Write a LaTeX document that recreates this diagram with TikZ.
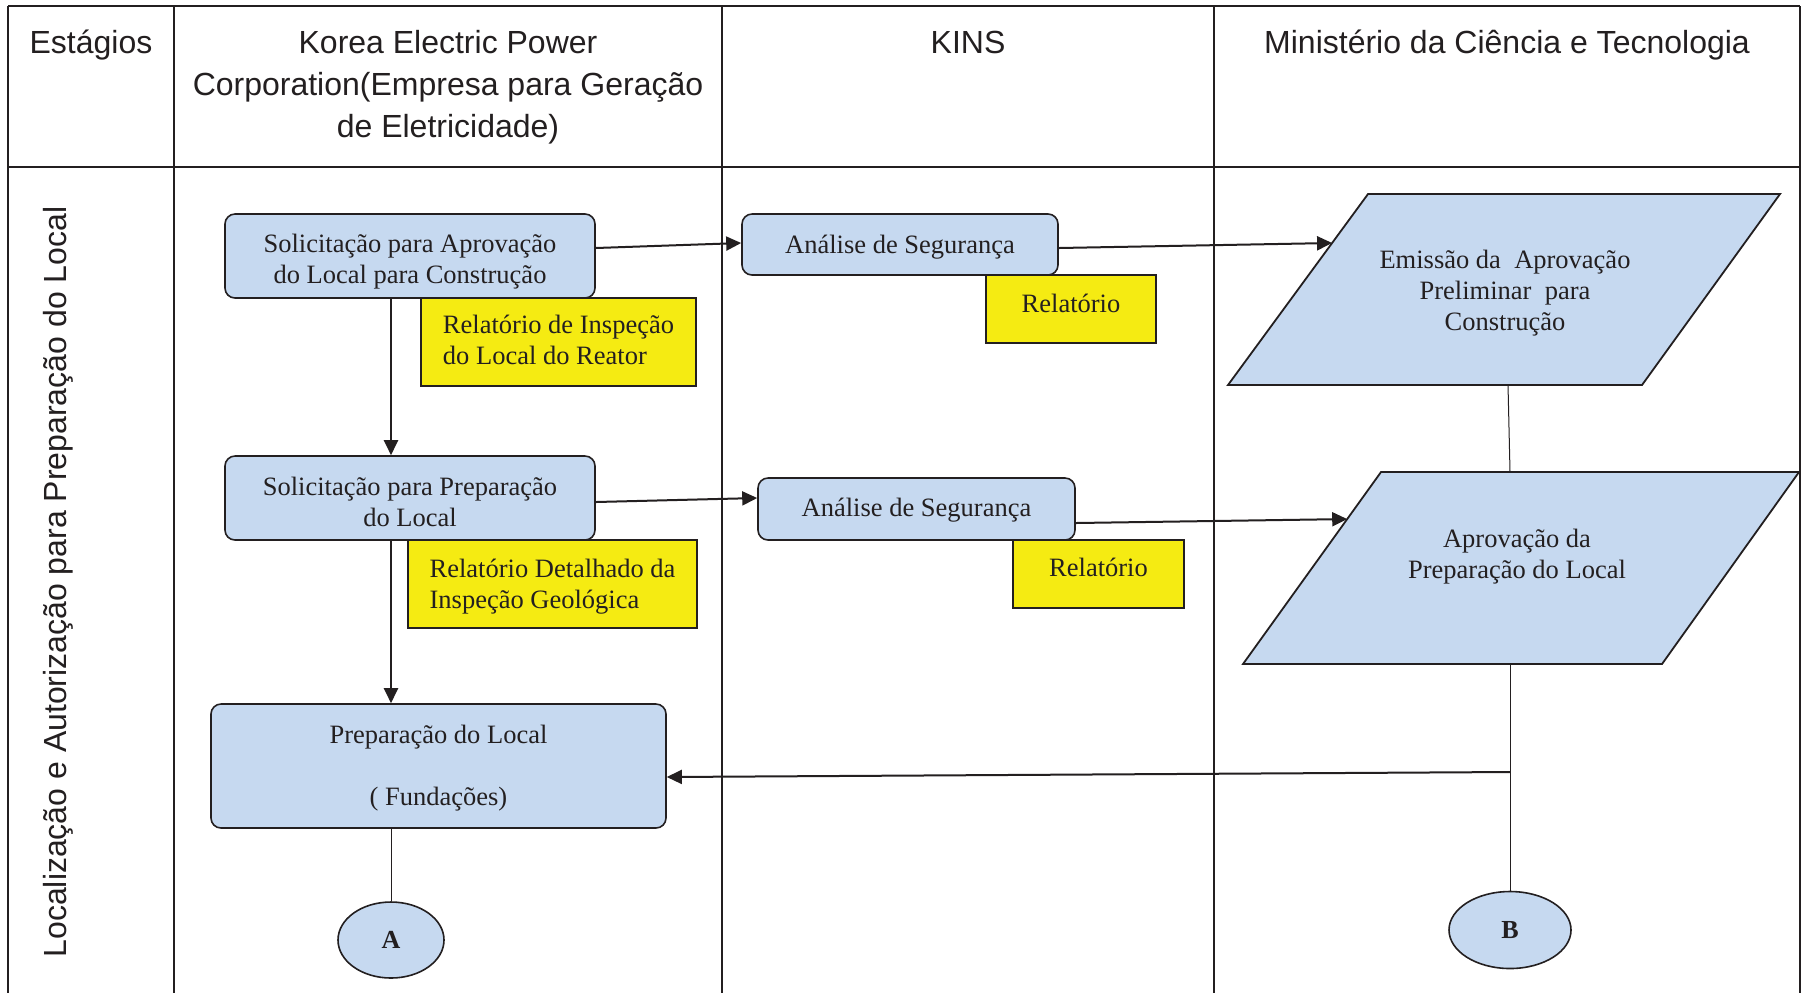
\documentclass[tikz,border=0pt]{standalone}
\usepackage{fontspec}
\setmainfont{Liberation Serif}
\newfontfamily\hdrfont{Liberation Sans}
\usetikzlibrary{arrows.meta,calc,shapes.geometric}
\definecolor{boxblue}{RGB}{198,217,240}
\definecolor{noteyel}{RGB}{245,235,18}
\definecolor{ink}{RGB}{35,31,32}
\begin{document}
\begin{tikzpicture}[x=0.5pt,y=-0.5pt,
  grid/.style={draw=ink,line width=0.9pt},
  hdr/.style={font=\hdrfont\fontsize{16}{21}\selectfont,text=ink,align=center,inner sep=0pt},
  proc/.style={draw=ink,line width=0.8pt,fill=boxblue,rounded corners=5pt,inner sep=0pt},
  note/.style={draw=ink,line width=0.8pt,fill=noteyel,inner sep=0pt},
  txt/.style={font=\fontsize{13.25}{15.5}\selectfont,align=center,inner sep=0pt,text=ink},
  ltxt/.style={txt,align=left},
  par/.style={draw=ink,line width=0.9pt,fill=boxblue,line join=miter},
  conn/.style={draw=ink,line width=1pt,-{Triangle[length=7.5pt,width=7pt]}},
  plain/.style={draw=ink,line width=0.5pt},
  term/.style={ellipse,draw=ink,line width=0.8pt,fill=boxblue,inner sep=0pt,
    font=\bfseries\fontsize{13}{15}\selectfont,text=ink}]
\useasboundingbox (0,0) rectangle (1807,993);
\fill[white] (0,0) rectangle (1807,993);
% table
\draw[grid] (8,6) -- (1800,6);
\draw[grid] (8,167) -- (1800,167);
\draw[grid] (8,6) -- (8,993);
\draw[grid] (174,6) -- (174,993);
\draw[grid] (722,6) -- (722,993);
\draw[grid] (1214,6) -- (1214,993);
\draw[grid] (1800,6) -- (1800,993);
% headers
\node[hdr,anchor=base] (h1) at (91,53) {Estágios};
\node[hdr,anchor=base] (h2) at (448,53) {Korea Electric Power};
\node[hdr,anchor=base] (h2b) at (448,95) {Corporation(Empresa para Geração};
\node[hdr,anchor=base] (h2c) at (448,137) {de Eletricidade)};
\node[hdr,anchor=base] (h3) at (968,53) {KINS};
\node[hdr,anchor=base] (h4) at (1507,53) {Ministério da Ciência e Tecnologia};
\node[hdr,rotate=90] (stage) at (58,582) {Localização e Autorização para Preparação do Local};
% process boxes
\node[proc,minimum width=185pt,minimum height=42pt] (b1) at (410,256) {};
\node[txt] (b1t) at (410,261.7) {Solicitação para Aprovação\\do Local para Construção};
\node[proc,minimum width=158pt,minimum height=30.5pt] (a1) at (900,244.5) {};
\node[txt] (a1t) at (900,246.8) {Análise de Segurança};
\node[note,minimum width=85pt,minimum height=34pt] (r1) at (1071,309) {};
\node[txt] (r1t) at (1071,303.5) {Relatório};
\node[note,minimum width=137.5pt,minimum height=44pt] (y1) at (558.5,342) {};
\node[ltxt] (y1t) at (558.5,340.3) {Relatório de Inspeção\\do Local do Reator};
\node[proc,minimum width=185pt,minimum height=42pt] (b2) at (410,498) {};
\node[txt] (b2t) at (410,501.5) {Solicitação para Preparação\\do Local};
\node[proc,minimum width=158.5pt,minimum height=31pt] (a2) at (916.5,509) {};
\node[txt] (a2t) at (916.5,510.2) {Análise de Segurança};
\node[note,minimum width=85.5pt,minimum height=34pt] (r2) at (1098.5,574) {};
\node[txt] (r2t) at (1098.5,567.5) {Relatório};
\node[note,minimum width=144.5pt,minimum height=44pt] (y2) at (552.5,584) {};
\node[ltxt] (y2t) at (552.5,586.3) {Relatório Detalhado da\\Inspeção Geológica};
\node[proc,minimum width=227.5pt,minimum height=62pt] (b3) at (438.5,766) {};
\node[txt] (b3t) at (438.5,768.3) {Preparação do Local\\[15.5pt]( Fundações)};
\node[term,minimum width=53pt,minimum height=38pt] (A) at (391,940) {A};
\node[term,minimum width=61pt,minimum height=38.5pt] (B) at (1510,930) {B};
% parallelograms
\coordinate (p1tl) at (1368,194);
\coordinate (p1tr) at (1780,194);
\coordinate (p1br) at (1642,385);
\coordinate (p1bl) at (1228,385);
\draw[par] (p1tl) -- (p1tr) -- (p1br) -- (p1bl) -- cycle;
\node[txt] (p1) at (1505,293.5) {Emissão da\ \ Aprovação\\Preliminar\ \ para\\Construção};
\coordinate (p2tl) at (1381,472);
\coordinate (p2tr) at (1799,472);
\coordinate (p2br) at (1662,664);
\coordinate (p2bl) at (1243,664);
\draw[par] (p2tl) -- (p2tr) -- (p2br) -- (p2bl) -- cycle;
\node[txt] (p2) at (1517,557) {Aprovação da\\Preparação do Local};
\coordinate (p1in) at ($(p1tl)!0.2565!(p1bl)$);
\coordinate (p2in) at ($(p2tl)!0.245!(p2bl)$);
\coordinate (p1b) at (1508,385);
\coordinate (p2t) at (1510,472);
\coordinate (p2b) at (1510,664);
\coordinate (jn) at (1510,772);
% connectors
\draw[conn] ([yshift=4pt]b1.east) -- ([yshift=0.75pt]a1.west);
\draw[conn] ([yshift=-1.75pt]a1.east) -- (p1in);
\draw[conn] ([xshift=-9.5pt]b1.south) -- ([xshift=-9.5pt]b2.north);
\draw[conn] ([yshift=-2pt]b2.east) -- ([yshift=5.5pt]a2.west);
\draw[conn] ([yshift=-7pt]a2.east) -- (p2in);
\draw[conn] ([xshift=-9.5pt]b2.south) -- ([xshift=-23.75pt]b3.north);
\draw[plain] ([xshift=-23.75pt]b3.south) -- (A.north);
\draw[plain] (p1b) -- (p2t);
\draw[plain] (p2b) -- (B.north);
\draw[conn] (jn) -- ([yshift=-5.5pt]b3.east);
\end{tikzpicture}
\end{document}
